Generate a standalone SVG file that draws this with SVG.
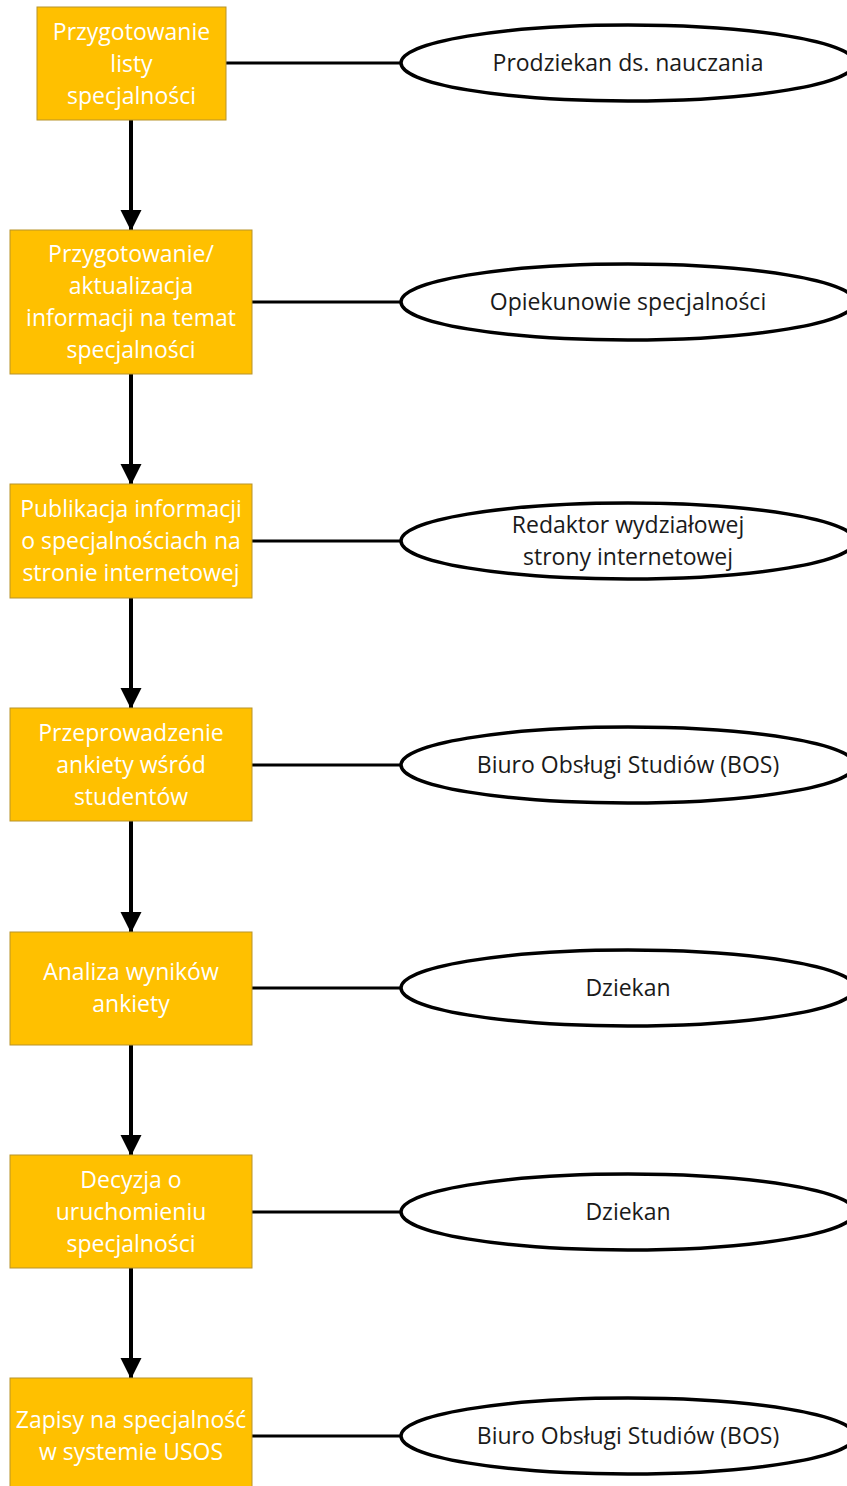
<svg xmlns="http://www.w3.org/2000/svg" width="847" height="1486" viewBox="0 0 847 1486">
<style>
.box{fill:#FFC000;stroke:#B8932A;stroke-width:1}
.bt{font-family:"Open Sans","Liberation Sans",sans-serif;font-size:23px;fill:#FFFFFF;text-anchor:middle}
.ell{fill:#FFFFFF;stroke:#000;stroke-width:3.5}
.et{font-family:"Open Sans","Liberation Sans",sans-serif;font-size:23px;fill:#1a1a1a;text-anchor:middle}
.h{stroke:#000;stroke-width:3;fill:none}
.v{stroke:#000;stroke-width:4;fill:none}
</style>
<defs>
<marker id="arr" markerUnits="userSpaceOnUse" markerWidth="22" markerHeight="22" refX="20" refY="10.5" orient="auto" viewBox="0 0 22 22">
<path d="M0,0 L21,10.5 L0,21 Z" fill="#000"/>
</marker>
</defs>
<rect width="847" height="1486" fill="#FFFFFF"/>
<g id="connectors">
<line class="v" x1="131" y1="120" x2="131" y2="230" marker-end="url(#arr)"/>
<line class="v" x1="131" y1="374" x2="131" y2="484" marker-end="url(#arr)"/>
<line class="v" x1="131" y1="598" x2="131" y2="708" marker-end="url(#arr)"/>
<line class="v" x1="131" y1="821" x2="131" y2="932" marker-end="url(#arr)"/>
<line class="v" x1="131" y1="1045" x2="131" y2="1155" marker-end="url(#arr)"/>
<line class="v" x1="131" y1="1268" x2="131" y2="1378" marker-end="url(#arr)"/>
<line class="h" x1="226" y1="63" x2="401" y2="63"/>
<line class="h" x1="252" y1="302" x2="401" y2="302"/>
<line class="h" x1="252" y1="541" x2="401" y2="541"/>
<line class="h" x1="252" y1="765" x2="401" y2="765"/>
<line class="h" x1="252" y1="988" x2="401" y2="988"/>
<line class="h" x1="252" y1="1212" x2="401" y2="1212"/>
<line class="h" x1="252" y1="1436" x2="401" y2="1436"/>
</g>
<g id="n1"><rect class="box" x="37" y="7" width="189" height="113"/>
<text class="bt" x="131.5" y="40">Przygotowanie</text><text class="bt" x="131.5" y="72">listy</text><text class="bt" x="131.5" y="104">specjalności</text></g>
<g id="n2"><rect class="box" x="10" y="230" width="242" height="144"/>
<text class="bt" x="131" y="262">Przygotowanie/</text><text class="bt" x="131" y="294">aktualizacja</text><text class="bt" x="131" y="326">informacji na temat</text><text class="bt" x="131" y="358">specjalności</text></g>
<g id="n3"><rect class="box" x="10" y="484" width="242" height="114"/>
<text class="bt" x="131" y="517">Publikacja informacji</text><text class="bt" x="131" y="549">o specjalnościach na</text><text class="bt" x="131" y="581">stronie internetowej</text></g>
<g id="n4"><rect class="box" x="10" y="708" width="242" height="113"/>
<text class="bt" x="131" y="741">Przeprowadzenie</text><text class="bt" x="131" y="773">ankiety wśród</text><text class="bt" x="131" y="805">studentów</text></g>
<g id="n5"><rect class="box" x="10" y="932" width="242" height="113"/>
<text class="bt" x="131" y="980">Analiza wyników</text><text class="bt" x="131" y="1012">ankiety</text></g>
<g id="n6"><rect class="box" x="10" y="1155" width="242" height="113"/>
<text class="bt" x="131" y="1188">Decyzja o</text><text class="bt" x="131" y="1220">uruchomieniu</text><text class="bt" x="131" y="1252">specjalności</text></g>
<g id="n7"><rect class="box" x="10" y="1378" width="242" height="113"/>
<text class="bt" x="131" y="1428">Zapisy na specjalność</text><text class="bt" x="131" y="1460">w systemie USOS</text></g>
<g id="e1"><ellipse class="ell" cx="628" cy="63" rx="227" ry="38"/><text class="et" x="628" y="71">Prodziekan ds. nauczania</text></g>
<g id="e2"><ellipse class="ell" cx="628" cy="302" rx="227" ry="38"/><text class="et" x="628" y="310">Opiekunowie specjalności</text></g>
<g id="e3"><ellipse class="ell" cx="628" cy="541" rx="227" ry="38"/><text class="et" x="628" y="533">Redaktor wydziałowej</text><text class="et" x="628" y="565">strony internetowej</text></g>
<g id="e4"><ellipse class="ell" cx="628" cy="765" rx="227" ry="38"/><text class="et" x="628" y="773">Biuro Obsługi Studiów (BOS)</text></g>
<g id="e5"><ellipse class="ell" cx="628" cy="988" rx="227" ry="38"/><text class="et" x="628" y="996">Dziekan</text></g>
<g id="e6"><ellipse class="ell" cx="628" cy="1212" rx="227" ry="38"/><text class="et" x="628" y="1220">Dziekan</text></g>
<g id="e7"><ellipse class="ell" cx="628" cy="1436" rx="227" ry="38"/><text class="et" x="628" y="1444">Biuro Obsługi Studiów (BOS)</text></g>
</svg>
